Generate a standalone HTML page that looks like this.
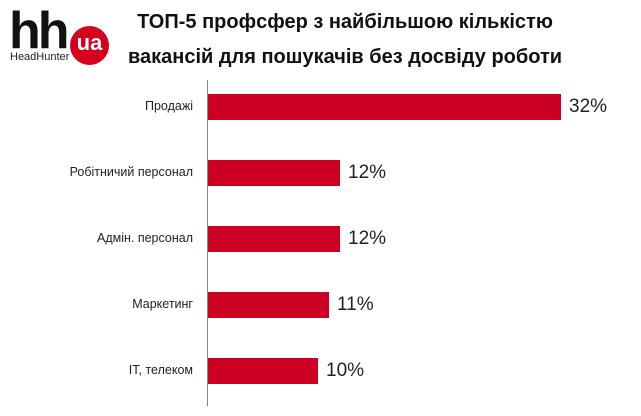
<!DOCTYPE html>
<html><head><meta charset="utf-8"><style>
body{margin:0;width:641px;height:416px;background:#fff;position:relative;overflow:hidden;font-family:"Liberation Sans",sans-serif}
.t{position:absolute;left:100px;width:490px;text-align:center;font-weight:bold;font-size:20px;color:#111;line-height:35px;top:5px}
.b{position:absolute;left:208px;height:26px;background:#cc0022}
.l{position:absolute;right:448px;font-size:12.5px;color:#222;text-align:right;white-space:nowrap}
.v{position:absolute;font-size:19px;color:#222}
</style></head><body>
<div style="position:absolute;left:9px;top:7px;font-weight:bold;font-size:52px;letter-spacing:-3px;line-height:48px;color:#111">hh</div>
<div style="position:absolute;left:10px;top:51px;font-size:11px;color:#222">HeadHunter</div>
<div style="position:absolute;left:70px;top:26px;width:39px;height:39px;border-radius:50%;background:#d6001c;color:#fff;font-weight:bold;font-size:22px;text-align:center;line-height:34px">ua</div>
<div class="t">ТОП-5 профсфер з найбільшою кількістю<br>вакансій для пошукачів без досвіду роботи</div>
<div style="position:absolute;left:207px;top:80px;width:1px;height:326px;background:#888"></div>
<div class="b" style="top:94px;width:353px"></div><div class="l" style="top:99px">Продажі</div><div class="v" style="left:569px;top:96px">32%</div>
<div class="b" style="top:160px;width:132px"></div><div class="l" style="top:165px">Робітничий персонал</div><div class="v" style="left:348px;top:162px">12%</div>
<div class="b" style="top:226px;width:132px"></div><div class="l" style="top:231px">Адмін. персонал</div><div class="v" style="left:348px;top:228px">12%</div>
<div class="b" style="top:292px;width:121px"></div><div class="l" style="top:297px">Маркетинг</div><div class="v" style="left:337px;top:294px">11%</div>
<div class="b" style="top:358px;width:110px"></div><div class="l" style="top:363px">IT, телеком</div><div class="v" style="left:326px;top:360px">10%</div>
</body></html>
